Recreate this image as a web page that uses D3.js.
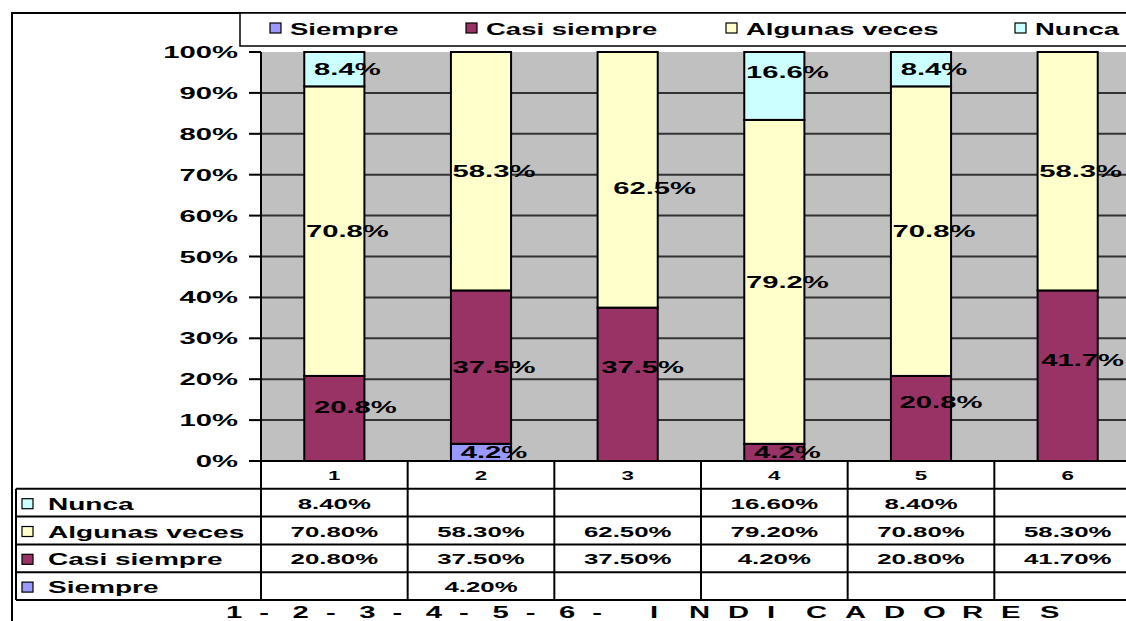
<!DOCTYPE html>
<html>
<head>
<meta charset="utf-8">
<script src="https://cdn.jsdelivr.net/npm/d3@7/dist/d3.min.js"></script>
<style>
  body { margin: 0; background: #fff; }
  svg { display: block; }
  text { font-family: "Liberation Sans", Arial, sans-serif; font-weight: bold; fill: #000; }
</style>
</head>
<body>
<div id="chart"></div>
<script>
// data (percent)
const categories = ["1", "2", "3", "4", "5", "6"];
const seriesNames = ["Siempre", "Casi siempre", "Algunas veces", "Nunca"];
const seriesColors = ["#9999ff", "#993366", "#ffffcc", "#ccffff"];
const siempre = [null, 4.2, null, null, null, null];
const casiSiempre = [20.8, 37.5, 37.5, 4.2, 20.8, 41.7];
const algunasVeces = [70.8, 58.3, 62.5, 79.2, 70.8, 58.3];
const nunca = [8.4, null, null, 16.6, 8.4, null];
const yTicks = [0, 10, 20, 30, 40, 50, 60, 70, 80, 90, 100];
const titleNums = ["1", "-", "2", "-", "3", "-", "4", "-", "5", "-", "6", "-"];
const titleWord = "INDICADORES";

const W = 1126, H = 621;
const SX = 1.72; // the picture is stretched sideways
const margin = {left: 261, top: 52, right: 1141, bottom: 461};
const tableBottom = 600;
const legendX = [270, 466, 726, 1015];
const labelNudge = {
  "Casi siempre|1": [8, -11], "Casi siempre|3": [2, -17], "Casi siempre|5": [7, -16],
  "Casi siempre|6": [2, -16], "Algunas veces|3": [14, 8], "Nunca|4": [0, -14]
};

const seriesValues = [siempre, casiSiempre, algunasVeces, nunca];
const rows = categories.map((c, i) => {
  const r = {cat: c};
  seriesNames.forEach((s, j) => r[s] = seriesValues[j][i] || 0);
  return r;
});
const stacked = d3.stack().keys(seriesNames)(rows);

const svg = d3.select("#chart").append("svg").attr("width", W).attr("height", H);

const x = d3.scaleBand().domain(categories).range([margin.left, margin.right]);
const y = d3.scaleLinear().domain([0, 100]).range([margin.bottom, margin.top]);
const color = d3.scaleOrdinal().domain(seriesNames).range(seriesColors);
const barW = x.bandwidth() * 0.41;

function wide(sel, px, py) {
  return sel.attr("transform", `translate(${px},${py}) scale(${SX},1)`);
}

// outer frame
svg.append("rect").attr("x", 12).attr("y", 13).attr("width", W + 20).attr("height", H + 20)
  .attr("fill", "none").attr("stroke", "#000").attr("stroke-width", 2);

// plot area
svg.append("rect").attr("x", margin.left).attr("y", margin.top)
  .attr("width", margin.right - margin.left).attr("height", margin.bottom - margin.top)
  .attr("fill", "#c0c0c0");

svg.append("g").selectAll("line").data(yTicks.filter(t => t > 0 && t < 100)).join("line")
  .attr("x1", margin.left).attr("x2", margin.right)
  .attr("y1", d => y(d)).attr("y2", d => y(d))
  .attr("stroke", "#333").attr("stroke-width", 2);

// y axis
const axis = svg.append("g");
axis.append("line").attr("x1", margin.left).attr("x2", margin.left)
  .attr("y1", margin.top).attr("y2", margin.bottom).attr("stroke", "#000").attr("stroke-width", 2);
axis.selectAll("line.tick").data(yTicks).join("line").attr("class", "tick")
  .attr("x1", 249).attr("x2", margin.left).attr("y1", d => y(d)).attr("y2", d => y(d))
  .attr("stroke", "#000").attr("stroke-width", 2);
axis.selectAll("text").data(yTicks).join("text")
  .each(function(d) { wide(d3.select(this), 238, y(d) + 6); })
  .attr("text-anchor", "end").style("font-size", "17px")
  .text(d => d + "%");

// bars
const layer = svg.append("g").selectAll("g").data(stacked).join("g")
  .attr("fill", d => color(d.key));
layer.selectAll("rect").data(d => d.filter(p => p[1] > p[0])).join("rect")
  .attr("x", d => x(d.data.cat) + (x.bandwidth() - barW) / 2)
  .attr("width", barW)
  .attr("y", d => y(d[1]))
  .attr("height", d => y(d[0]) - y(d[1]))
  .attr("stroke", "#000").attr("stroke-width", 2);

// data labels
const fmtLabel = v => d3.format(".1f")(v) + "%";
stacked.forEach(s => {
  s.filter(p => p[1] > p[0]).forEach(p => {
    const nudge = labelNudge[s.key + "|" + p.data.cat] || [0, 0];
    const cx = x(p.data.cat) + x.bandwidth() / 2 + 13 + nudge[0];
    const cy = (y(p[0]) + y(p[1])) / 2 + nudge[1];
    wide(svg.append("text"), cx, cy + 6)
      .attr("text-anchor", "middle").style("font-size", "17px")
      .text(fmtLabel(p[1] - p[0]));
  });
});

// data table
const tableRows = ["__cat"].concat(seriesNames.slice().reverse());
const ty = d3.scaleBand().domain(tableRows).range([margin.bottom, tableBottom]);
const table = svg.append("g");
const edgesX = categories.map(c => x(c)).concat([margin.right]);

table.append("line").attr("x1", margin.left).attr("x2", margin.right)
  .attr("y1", margin.bottom).attr("y2", margin.bottom).attr("stroke", "#000").attr("stroke-width", 2);
table.selectAll("line.h").data(tableRows).join("line").attr("class", "h")
  .attr("x1", 16).attr("x2", margin.right)
  .attr("y1", d => ty(d) + ty.bandwidth()).attr("y2", d => ty(d) + ty.bandwidth())
  .attr("stroke", "#000").attr("stroke-width", 2);
table.selectAll("line.v").data(edgesX).join("line").attr("class", "v")
  .attr("x1", d => d).attr("x2", d => d)
  .attr("y1", margin.bottom).attr("y2", tableBottom)
  .attr("stroke", "#000").attr("stroke-width", 2);
table.append("line").attr("x1", 16).attr("x2", 16)
  .attr("y1", ty(tableRows[1])).attr("y2", tableBottom)
  .attr("stroke", "#000").attr("stroke-width", 2);

table.selectAll("text.cat").data(categories).join("text").attr("class", "cat")
  .each(function(d) { wide(d3.select(this), x(d) + x.bandwidth() / 2, ty("__cat") + 19); })
  .attr("text-anchor", "middle").style("font-size", "13px").text(d => d);

const fmtCell = v => d3.format(".2f")(v) + "%";
seriesNames.forEach((s, j) => {
  const rowY = ty(s);
  table.append("rect").attr("x", 22).attr("y", rowY + ty.bandwidth() / 2 - 4)
    .attr("width", 11).attr("height", 10)
    .attr("fill", color(s)).attr("stroke", "#000").attr("stroke-width", 1.2);
  wide(table.append("text"), 48, rowY + ty.bandwidth() / 2 + 7)
    .style("font-size", "16.3px").text(s);
  categories.forEach((c, i) => {
    const v = seriesValues[j][i];
    if (v == null) return;
    wide(table.append("text"), x(c) + x.bandwidth() / 2, rowY + ty.bandwidth() / 2 + 6)
      .attr("text-anchor", "middle").style("font-size", "15px").text(fmtCell(v));
  });
});

// axis title
const title = wide(svg.append("text"), 0, 618).style("font-size", "17px");
titleNums.forEach((ch, i) => {
  title.append("tspan").attr("x", (226 + i * 33.3) / SX).text(ch);
});
titleWord.split("").forEach((ch, i) => {
  title.append("tspan").attr("x", (650 + i * 39) / SX).text(ch);
});

// legend
const legend = svg.append("g");
legend.append("rect").attr("x", 240).attr("y", 13).attr("width", 1000).attr("height", 33)
  .attr("fill", "#fff").attr("stroke", "#000").attr("stroke-width", 1.5);
seriesNames.forEach((s, i) => {
  const lx = legendX[i];
  legend.append("rect").attr("x", lx).attr("y", 23).attr("width", 11).attr("height", 10)
    .attr("fill", color(s)).attr("stroke", "#000").attr("stroke-width", 1.2);
  wide(legend.append("text"), lx + 20, 35).style("font-size", "16px").text(s);
});
</script>
</body>
</html>
